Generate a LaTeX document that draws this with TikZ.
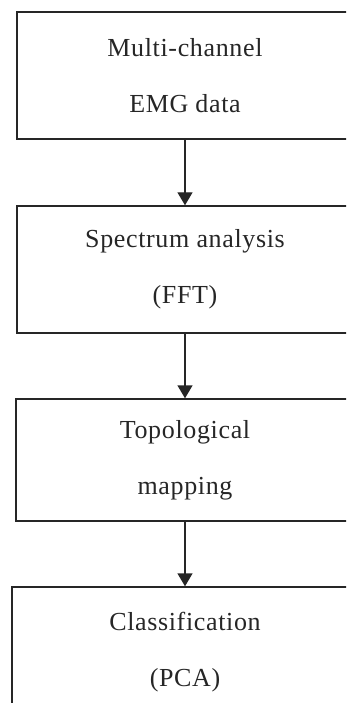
\documentclass[tikz,border=0pt]{standalone}
\usepackage{fontspec}
\setmainfont{Liberation Serif}
\usetikzlibrary{arrows.meta}
\tikzset{
  stage/.style={draw=black!85,line width=1.4pt,align=center,inner sep=0pt,
    text=black!85,font=\fontsize{26}{56}\selectfont\addfontfeature{LetterSpace=2.5}},
  flow/.style={draw=black!85,line width=1.4pt,-{Triangle[width=15pt,length=13pt]}}
}
\begin{document}
\begin{tikzpicture}[x=1pt,y=-1pt]
\clip (0,0) rectangle (346,703);
\node[stage,minimum width=336pt,minimum height=127pt] (emg) at (185,75.5) {Multi-channel\\EMG data};
\node[stage,minimum width=336pt,minimum height=127pt] (fft) at (185,269.5) {Spectrum analysis\\(FFT)};
\node[stage,minimum width=338pt,minimum height=122pt] (topo) at (185,460) {Topological\\mapping};
\node[stage,minimum width=346pt,minimum height=130pt] (pca) at (185,652) {Classification\\(PCA)};
\draw[flow] (emg) -- (fft);
\draw[flow] (fft) -- (topo);
\draw[flow] (topo) -- (pca);
\end{tikzpicture}
\end{document}
